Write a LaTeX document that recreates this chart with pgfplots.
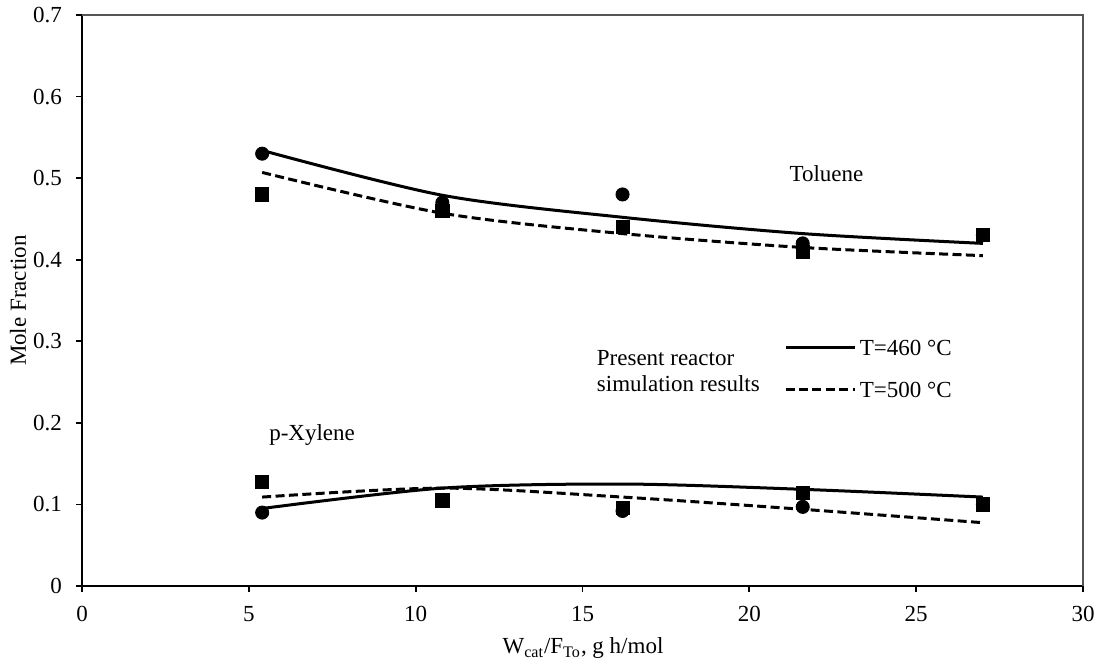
\documentclass[border=0pt]{standalone}
\usepackage{fontspec}
\setmainfont{Liberation Serif}
\usepackage{pgfplots}
\pgfplotsset{compat=1.18}
\usepackage{pgfplotstable}

\pgfplotstableread{
x y
5.4 0.53
10.8 0.47
16.2 0.48
21.6 0.42
27 0.43
}\tolcirc
\pgfplotstableread{
x y
5.4 0.48
10.8 0.46
16.2 0.44
21.6 0.41
27 0.43
}\tolsq
\pgfplotstableread{
x y
5.4 0.09
10.8 0.105
16.2 0.092
21.6 0.097
27 0.10
}\xylcirc
\pgfplotstableread{
x y
5.4 0.128
10.8 0.105
16.2 0.096
21.6 0.114
27 0.10
}\xylsq
\pgfplotstableread{
x y
5.4 0.534
10.8 0.479
16.2 0.452
21.6 0.432
27 0.42
}\tolA
\pgfplotstableread{
x y
5.4 0.507
10.8 0.457
16.2 0.432
21.6 0.415
27 0.405
}\tolB
\pgfplotstableread{
x y
5.4 0.095
10.8 0.12
16.2 0.125
21.6 0.1185
27 0.109
}\xylA
\pgfplotstableread{
x y
5.4 0.109
10.8 0.12
16.2 0.109
21.6 0.094
27 0.0776
}\xylB

\newcommand\myfont{\fontsize{11.5}{13}\selectfont}
\definecolor{boxgray}{HTML}{555555}

\begin{document}
\begin{tikzpicture}[font=\myfont]
\begin{axis}[
  at={(0pt,0pt)}, anchor=south west,
  scale only axis, width=500.5pt, height=285.5pt,
  xmin=0, xmax=30, ymin=0, ymax=0.7,
  xtick={0,5,10,15,20,25,30},
  ytick={0,0.1,0.2,0.3,0.4,0.5,0.6,0.7},
  axis x line*=bottom, axis y line*=left,
  axis line style={line width=0.9pt, black},
  tick align=outside, major tick length=3pt,
  tick style={line width=0.9pt, black},
  /pgf/number format/assume math mode=true,
  ticklabel style={font=\myfont},
  xticklabel style={yshift=-3.5pt},
  yticklabel style={xshift=-3.5pt},
  xlabel={W\textsubscript{cat}/F\textsubscript{To}, g h/mol},
  ylabel={Mole Fraction},
  label style={font=\myfont},
  xlabel style={at={(axis description cs:0.5005,-0.1086)}, anchor=center},
  ylabel style={at={(axis description cs:-0.064,0.5)}, anchor=center},
  clip=false,
  legend image code/.code={\draw[#1] (0pt,0pt) -- (34.5pt,0pt);},
  legend style={draw=none, fill=none, inner sep=0pt, outer sep=0pt,
    at={(axis cs:21.04,0.2926)}, anchor=west, yshift=-10.5pt, row sep=13pt,
    nodes={inner sep=0pt, text height=8pt, text depth=0pt, font=\myfont}},
  legend cell align=left,
  after end axis/.code={\draw[boxgray, line width=0.8pt] (rel axis cs:0,1) -- (rel axis cs:1,1) -- (rel axis cs:1,0);},
]
\addplot[black, line width=1.5pt, smooth, no marks] table {\tolA};
\addlegendentry{\,T=460 °C}
\addplot[black, line width=1.5pt, smooth, no marks, dash pattern=on 4.5pt off 2.2pt] table {\tolB};
\addlegendentry{\,T=500 °C}
\addplot[black, line width=1.5pt, smooth, no marks, forget plot] table {\xylA};
\addplot[black, line width=1.5pt, smooth, no marks, dash pattern=on 4.5pt off 2.2pt, forget plot] table {\xylB};
\addplot[only marks, mark=*, mark size=3.3pt, black, forget plot] table {\tolcirc};
\addplot[only marks, mark=*, mark size=3.3pt, black, forget plot] table {\xylcirc};
\addplot[only marks, mark=square*, mark size=3.3pt, black, forget plot] table {\tolsq};
\addplot[only marks, mark=square*, mark size=3.3pt, black, forget plot] table {\xylsq};
\node[anchor=center] at (axis cs:22.31,0.506) {Toluene};
\node[anchor=west, inner sep=0pt] at (axis cs:5.6,0.185) {p-Xylene};
\node[anchor=west, align=left, inner sep=0pt] at (axis cs:15.42,0.264) {Present reactor\\simulation results};
\end{axis}
\pgfresetboundingbox
\path (-41pt,-38.5pt) rectangle (510.5pt,293pt);
\end{tikzpicture}
\end{document}
